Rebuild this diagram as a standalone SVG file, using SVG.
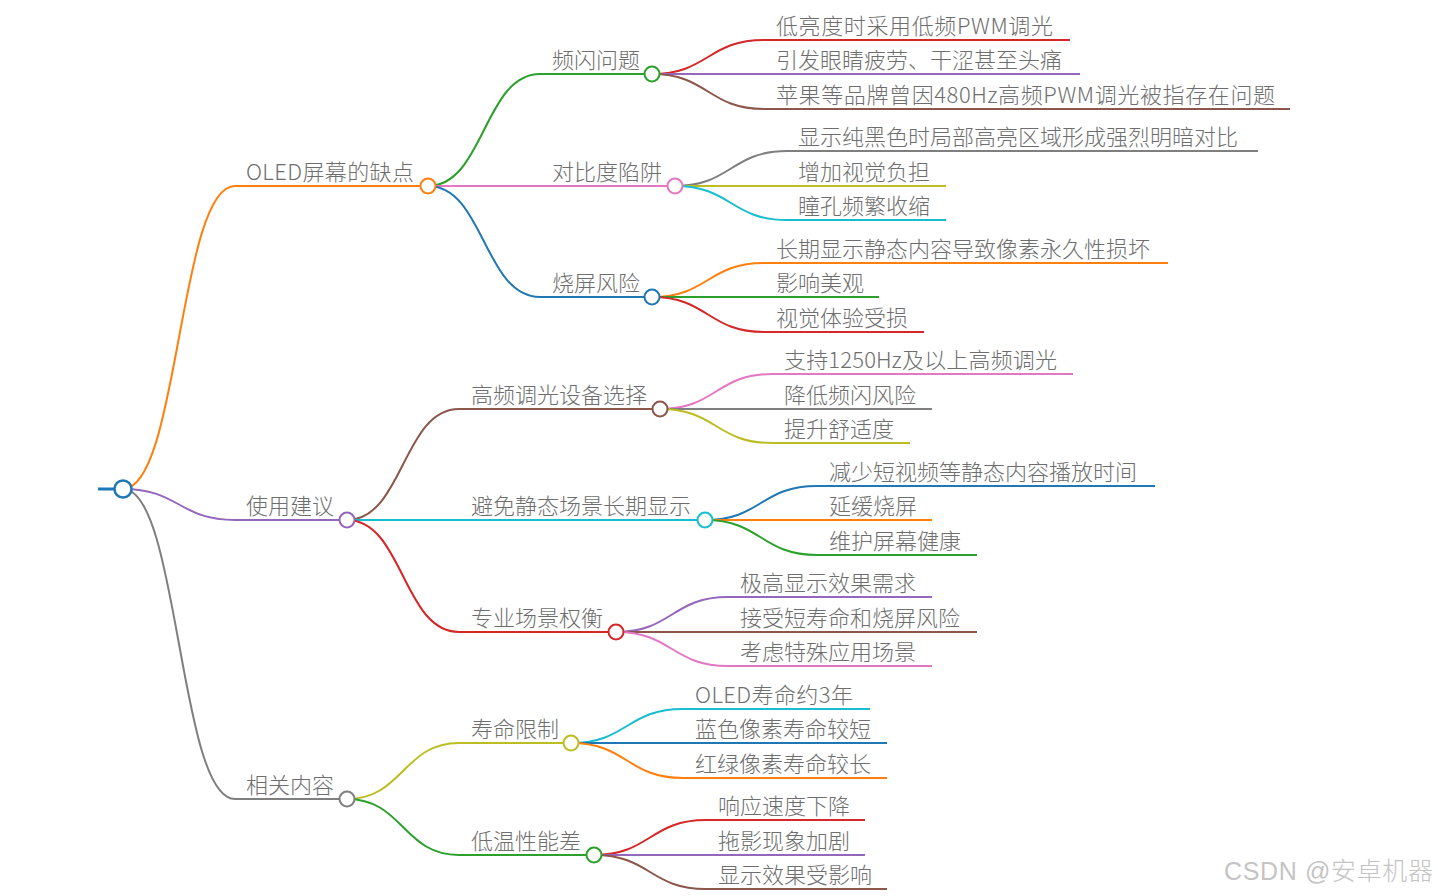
<svg xmlns="http://www.w3.org/2000/svg" width="1438" height="896" viewBox="0 0 1438 896">
<style>
text{font-family:"Noto Sans CJK SC","Liberation Sans",sans-serif;font-size:22px;font-weight:300;fill:#6e6e6e}
.l{fill:none;stroke-width:2}
.c{fill:#fff;stroke-width:2}
.wm{font-size:25px;fill:#c4c4c4;font-family:"Liberation Sans","Noto Sans CJK SC",sans-serif}
</style>
<rect width="1438" height="896" fill="#fff"/>
<g id="connectors" class="l">
<path d="M123,489 C179,489 179,186 235,186" stroke="#ff7f0e"/>
<path d="M123,489 C179,489 179,520 235,520" stroke="#9467bd"/>
<path d="M123,489 C179,489 179,799 235,799" stroke="#7f7f7f"/>
<path d="M428,186 C484,186 484,74 540,74" stroke="#2ca02c"/>
<path d="M428,186 L540,186" stroke="#e377c2"/>
<path d="M428,186 C484,186 484,297 540,297" stroke="#1f77b4"/>
<path d="M347,520 C403,520 403,409 459,409" stroke="#8c564b"/>
<path d="M347,520 L459,520" stroke="#17becf"/>
<path d="M347,520 C403,520 403,632 459,632" stroke="#d62728"/>
<path d="M347,799 C403,799 403,743 459,743" stroke="#bcbd22"/>
<path d="M347,799 C403,799 403,855 459,855" stroke="#2ca02c"/>
<path d="M652,74 C708,74 708,40 764,40" stroke="#d62728"/>
<path d="M652,74 L764,74" stroke="#9467bd"/>
<path d="M652,74 C708,74 708,109 764,109" stroke="#8c564b"/>
<path d="M675,186 C731,186 731,151 787,151" stroke="#7f7f7f"/>
<path d="M675,186 L787,186" stroke="#bcbd22"/>
<path d="M675,186 C731,186 731,220 787,220" stroke="#17becf"/>
<path d="M652,297 C708,297 708,263 764,263" stroke="#ff7f0e"/>
<path d="M652,297 L764,297" stroke="#2ca02c"/>
<path d="M652,297 C708,297 708,332 764,332" stroke="#d62728"/>
<path d="M660,409 C716,409 716,374 772,374" stroke="#e377c2"/>
<path d="M660,409 L772,409" stroke="#7f7f7f"/>
<path d="M660,409 C716,409 716,443 772,443" stroke="#bcbd22"/>
<path d="M705,520 C761,520 761,486 817,486" stroke="#1f77b4"/>
<path d="M705,520 L817,520" stroke="#ff7f0e"/>
<path d="M705,520 C761,520 761,555 817,555" stroke="#2ca02c"/>
<path d="M616,632 C672,632 672,597 728,597" stroke="#9467bd"/>
<path d="M616,632 L728,632" stroke="#8c564b"/>
<path d="M616,632 C672,632 672,666 728,666" stroke="#e377c2"/>
<path d="M571,743 C627,743 627,709 683,709" stroke="#17becf"/>
<path d="M571,743 L683,743" stroke="#1f77b4"/>
<path d="M571,743 C627,743 627,778 683,778" stroke="#ff7f0e"/>
<path d="M594,855 C650,855 650,820 706,820" stroke="#d62728"/>
<path d="M594,855 L706,855" stroke="#9467bd"/>
<path d="M594,855 C650,855 650,889 706,889" stroke="#8c564b"/>
</g>
<g id="root">
<line x1="98" y1="489" x2="115" y2="489" stroke="#1f77b4" stroke-width="3"/>
<circle cx="123" cy="489" r="8.5" fill="#fff" stroke="#1f77b4" stroke-width="2.5"/>
</g>
<g id="n-oled"><line class="l" x1="235" y1="186" x2="421" y2="186" stroke="#ff7f0e"/><text x="246" y="180" textLength="168">OLED屏幕的缺点</text><circle class="c" cx="428" cy="186" r="7.5" stroke="#ff7f0e"/></g>
<g id="n-use"><line class="l" x1="235" y1="520" x2="340" y2="520" stroke="#9467bd"/><text x="246" y="514">使用建议</text><circle class="c" cx="347" cy="520" r="7.5" stroke="#9467bd"/></g>
<g id="n-rel"><line class="l" x1="235" y1="799" x2="340" y2="799" stroke="#7f7f7f"/><text x="246" y="793">相关内容</text><circle class="c" cx="347" cy="799" r="7.5" stroke="#7f7f7f"/></g>
<g id="n-flicker"><line class="l" x1="540" y1="74" x2="645" y2="74" stroke="#2ca02c"/><text x="552" y="68">频闪问题</text><circle class="c" cx="652" cy="74" r="7.5" stroke="#2ca02c"/></g>
<g id="n-contrast"><line class="l" x1="540" y1="186" x2="668" y2="186" stroke="#e377c2"/><text x="552" y="180">对比度陷阱</text><circle class="c" cx="675" cy="186" r="7.5" stroke="#e377c2"/></g>
<g id="n-burn"><line class="l" x1="540" y1="297" x2="645" y2="297" stroke="#1f77b4"/><text x="552" y="291">烧屏风险</text><circle class="c" cx="652" cy="297" r="7.5" stroke="#1f77b4"/></g>
<g id="n-hf"><line class="l" x1="459" y1="409" x2="653" y2="409" stroke="#8c564b"/><text x="471" y="403">高频调光设备选择</text><circle class="c" cx="660" cy="409" r="7.5" stroke="#8c564b"/></g>
<g id="n-static"><line class="l" x1="459" y1="520" x2="698" y2="520" stroke="#17becf"/><text x="471" y="514">避免静态场景长期显示</text><circle class="c" cx="705" cy="520" r="7.5" stroke="#17becf"/></g>
<g id="n-pro"><line class="l" x1="459" y1="632" x2="609" y2="632" stroke="#d62728"/><text x="471" y="626">专业场景权衡</text><circle class="c" cx="616" cy="632" r="7.5" stroke="#d62728"/></g>
<g id="n-life"><line class="l" x1="459" y1="743" x2="564" y2="743" stroke="#bcbd22"/><text x="471" y="737">寿命限制</text><circle class="c" cx="571" cy="743" r="7.5" stroke="#bcbd22"/></g>
<g id="n-cold"><line class="l" x1="459" y1="855" x2="587" y2="855" stroke="#2ca02c"/><text x="471" y="849">低温性能差</text><circle class="c" cx="594" cy="855" r="7.5" stroke="#2ca02c"/></g>
<g id="leaf-1"><line class="l" x1="764" y1="40" x2="1070" y2="40" stroke="#d62728"/><text x="776" y="34" textLength="277">低亮度时采用低频PWM调光</text></g>
<g id="leaf-2"><line class="l" x1="764" y1="74" x2="1080" y2="74" stroke="#9467bd"/><text x="776" y="68">引发眼睛疲劳、干涩甚至头痛</text></g>
<g id="leaf-3"><line class="l" x1="764" y1="109" x2="1290" y2="109" stroke="#8c564b"/><text x="776" y="103" textLength="499">苹果等品牌曾因480Hz高频PWM调光被指存在问题</text></g>
<g id="leaf-4"><line class="l" x1="787" y1="151" x2="1258" y2="151" stroke="#7f7f7f"/><text x="798" y="145">显示纯黑色时局部高亮区域形成强烈明暗对比</text></g>
<g id="leaf-5"><line class="l" x1="787" y1="186" x2="946" y2="186" stroke="#bcbd22"/><text x="798" y="180">增加视觉负担</text></g>
<g id="leaf-6"><line class="l" x1="787" y1="220" x2="946" y2="220" stroke="#17becf"/><text x="798" y="214">瞳孔频繁收缩</text></g>
<g id="leaf-7"><line class="l" x1="764" y1="263" x2="1168" y2="263" stroke="#ff7f0e"/><text x="776" y="257">长期显示静态内容导致像素永久性损坏</text></g>
<g id="leaf-8"><line class="l" x1="764" y1="297" x2="879" y2="297" stroke="#2ca02c"/><text x="776" y="291">影响美观</text></g>
<g id="leaf-9"><line class="l" x1="764" y1="332" x2="924" y2="332" stroke="#d62728"/><text x="776" y="326">视觉体验受损</text></g>
<g id="leaf-10"><line class="l" x1="772" y1="374" x2="1073" y2="374" stroke="#e377c2"/><text x="784" y="368" textLength="273">支持1250Hz及以上高频调光</text></g>
<g id="leaf-11"><line class="l" x1="772" y1="409" x2="932" y2="409" stroke="#7f7f7f"/><text x="784" y="403">降低频闪风险</text></g>
<g id="leaf-12"><line class="l" x1="772" y1="443" x2="910" y2="443" stroke="#bcbd22"/><text x="784" y="437">提升舒适度</text></g>
<g id="leaf-13"><line class="l" x1="817" y1="486" x2="1155" y2="486" stroke="#1f77b4"/><text x="829" y="480">减少短视频等静态内容播放时间</text></g>
<g id="leaf-14"><line class="l" x1="817" y1="520" x2="932" y2="520" stroke="#ff7f0e"/><text x="829" y="514">延缓烧屏</text></g>
<g id="leaf-15"><line class="l" x1="817" y1="555" x2="977" y2="555" stroke="#2ca02c"/><text x="829" y="549">维护屏幕健康</text></g>
<g id="leaf-16"><line class="l" x1="728" y1="597" x2="932" y2="597" stroke="#9467bd"/><text x="740" y="591">极高显示效果需求</text></g>
<g id="leaf-17"><line class="l" x1="728" y1="632" x2="977" y2="632" stroke="#8c564b"/><text x="740" y="626">接受短寿命和烧屏风险</text></g>
<g id="leaf-18"><line class="l" x1="728" y1="666" x2="932" y2="666" stroke="#e377c2"/><text x="740" y="660">考虑特殊应用场景</text></g>
<g id="leaf-19"><line class="l" x1="683" y1="709" x2="870" y2="709" stroke="#17becf"/><text x="695" y="703" textLength="158">OLED寿命约3年</text></g>
<g id="leaf-20"><line class="l" x1="683" y1="743" x2="887" y2="743" stroke="#1f77b4"/><text x="695" y="737">蓝色像素寿命较短</text></g>
<g id="leaf-21"><line class="l" x1="683" y1="778" x2="887" y2="778" stroke="#ff7f0e"/><text x="695" y="772">红绿像素寿命较长</text></g>
<g id="leaf-22"><line class="l" x1="706" y1="820" x2="865" y2="820" stroke="#d62728"/><text x="718" y="814">响应速度下降</text></g>
<g id="leaf-23"><line class="l" x1="706" y1="855" x2="865" y2="855" stroke="#9467bd"/><text x="718" y="849">拖影现象加剧</text></g>
<g id="leaf-24"><line class="l" x1="706" y1="889" x2="887" y2="889" stroke="#8c564b"/><text x="718" y="883">显示效果受影响</text></g>
<text class="wm" x="1224" y="880" textLength="209">CSDN @安卓机器</text>
</svg>
